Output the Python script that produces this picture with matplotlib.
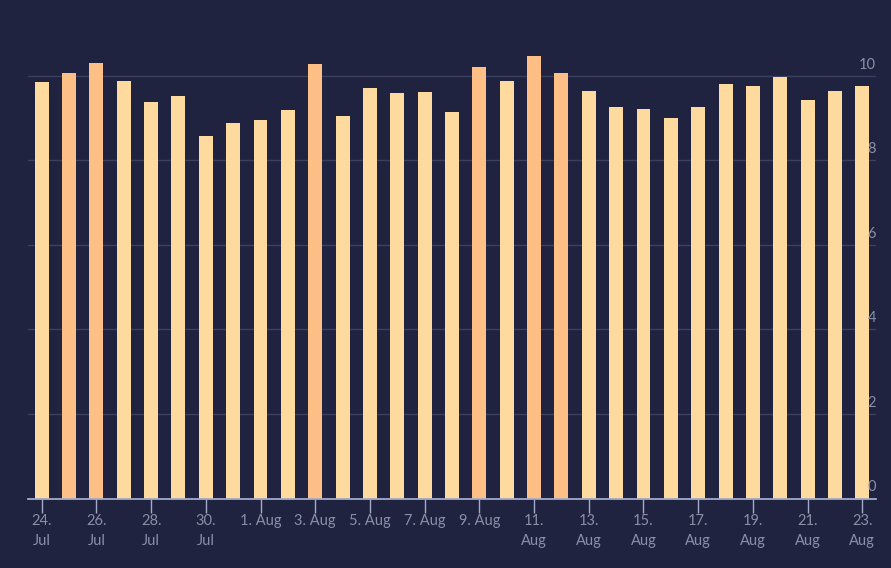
import numpy as np
import matplotlib
matplotlib.use("Agg")
import matplotlib.pyplot as plt
from matplotlib.transforms import blended_transform_factory

# daily values, 24 Jul .. 23 Aug
days = ["24 Jul", "25 Jul", "26 Jul", "27 Jul", "28 Jul", "29 Jul", "30 Jul", "31 Jul",
        "1 Aug", "2 Aug", "3 Aug", "4 Aug", "5 Aug", "6 Aug", "7 Aug", "8 Aug",
        "9 Aug", "10 Aug", "11 Aug", "12 Aug", "13 Aug", "14 Aug", "15 Aug", "16 Aug",
        "17 Aug", "18 Aug", "19 Aug", "20 Aug", "21 Aug", "22 Aug", "23 Aug"]
values = [9.86, 10.07, 10.31, 9.88, 9.38, 9.53, 8.58, 8.89, 8.96, 9.19, 10.28,
          9.05, 9.72, 9.60, 9.62, 9.15, 10.21, 9.88, 10.47, 10.07, 9.64, 9.27,
          9.22, 9.00, 9.27, 9.81, 9.76, 9.98, 9.43, 9.64, 9.76]
highlight = ["25 Jul", "26 Jul", "3 Aug", "9 Aug", "11 Aug", "12 Aug"]

tick_labels = ["24.\nJul", "26.\nJul", "28.\nJul", "30.\nJul", "1. Aug", "3. Aug",
               "5. Aug", "7. Aug", "9. Aug", "11.\nAug", "13.\nAug", "15.\nAug",
               "17.\nAug", "19.\nAug", "21.\nAug", "23.\nAug"]
y_ticks = [0, 2, 4, 6, 8, 10]

bg = "#1f2340"
light = "#ffda9f"
dark = "#fdbf85"
txt = "#8a8ea6"

plt.rcParams['font.family'] = ['Lato', 'DejaVu Sans']

fig = plt.figure(figsize=(8.91, 5.68), dpi=100, facecolor=bg)
W, H = 891, 568
ax = fig.add_axes([28 / W, (H - 498.5) / H, 848 / W, 465 / H])
ax.set_facecolor(bg)

x = np.arange(len(days))
colors = [dark if d in highlight else light for d in days]
ax.bar(x, values, width=0.51, color=colors, zorder=3)

ax.set_xlim(-0.5, len(days) - 0.5)
ax.set_ylim(0, 11)

for s in ["top", "left", "right"]:
    ax.spines[s].set_visible(False)
ax.spines["bottom"].set_color("#a4abc8")
ax.spines["bottom"].set_linewidth(1.3)
ax.spines["bottom"].set_zorder(4)

ax.set_xticks(x[::2])
ax.set_xticklabels(tick_labels, color=txt, fontsize=10.5, linespacing=1.6, va="top")
ax.tick_params(axis="x", length=10, width=1, color="#a4abc8", pad=1)

ax.set_yticks(y_ticks)
ax.set_yticklabels([])
ax.tick_params(axis="y", length=0)
ax.grid(axis="y", color="#3b4060", linewidth=1, zorder=0)

tr = blended_transform_factory(ax.transAxes, ax.transData)
for v in y_ticks:
    ax.text(1.0, v + 0.1, str(v), transform=tr, ha="right", va="bottom",
            color=txt, fontsize=10.5, zorder=5)

fig.savefig("out.png", dpi=100, facecolor=bg)
